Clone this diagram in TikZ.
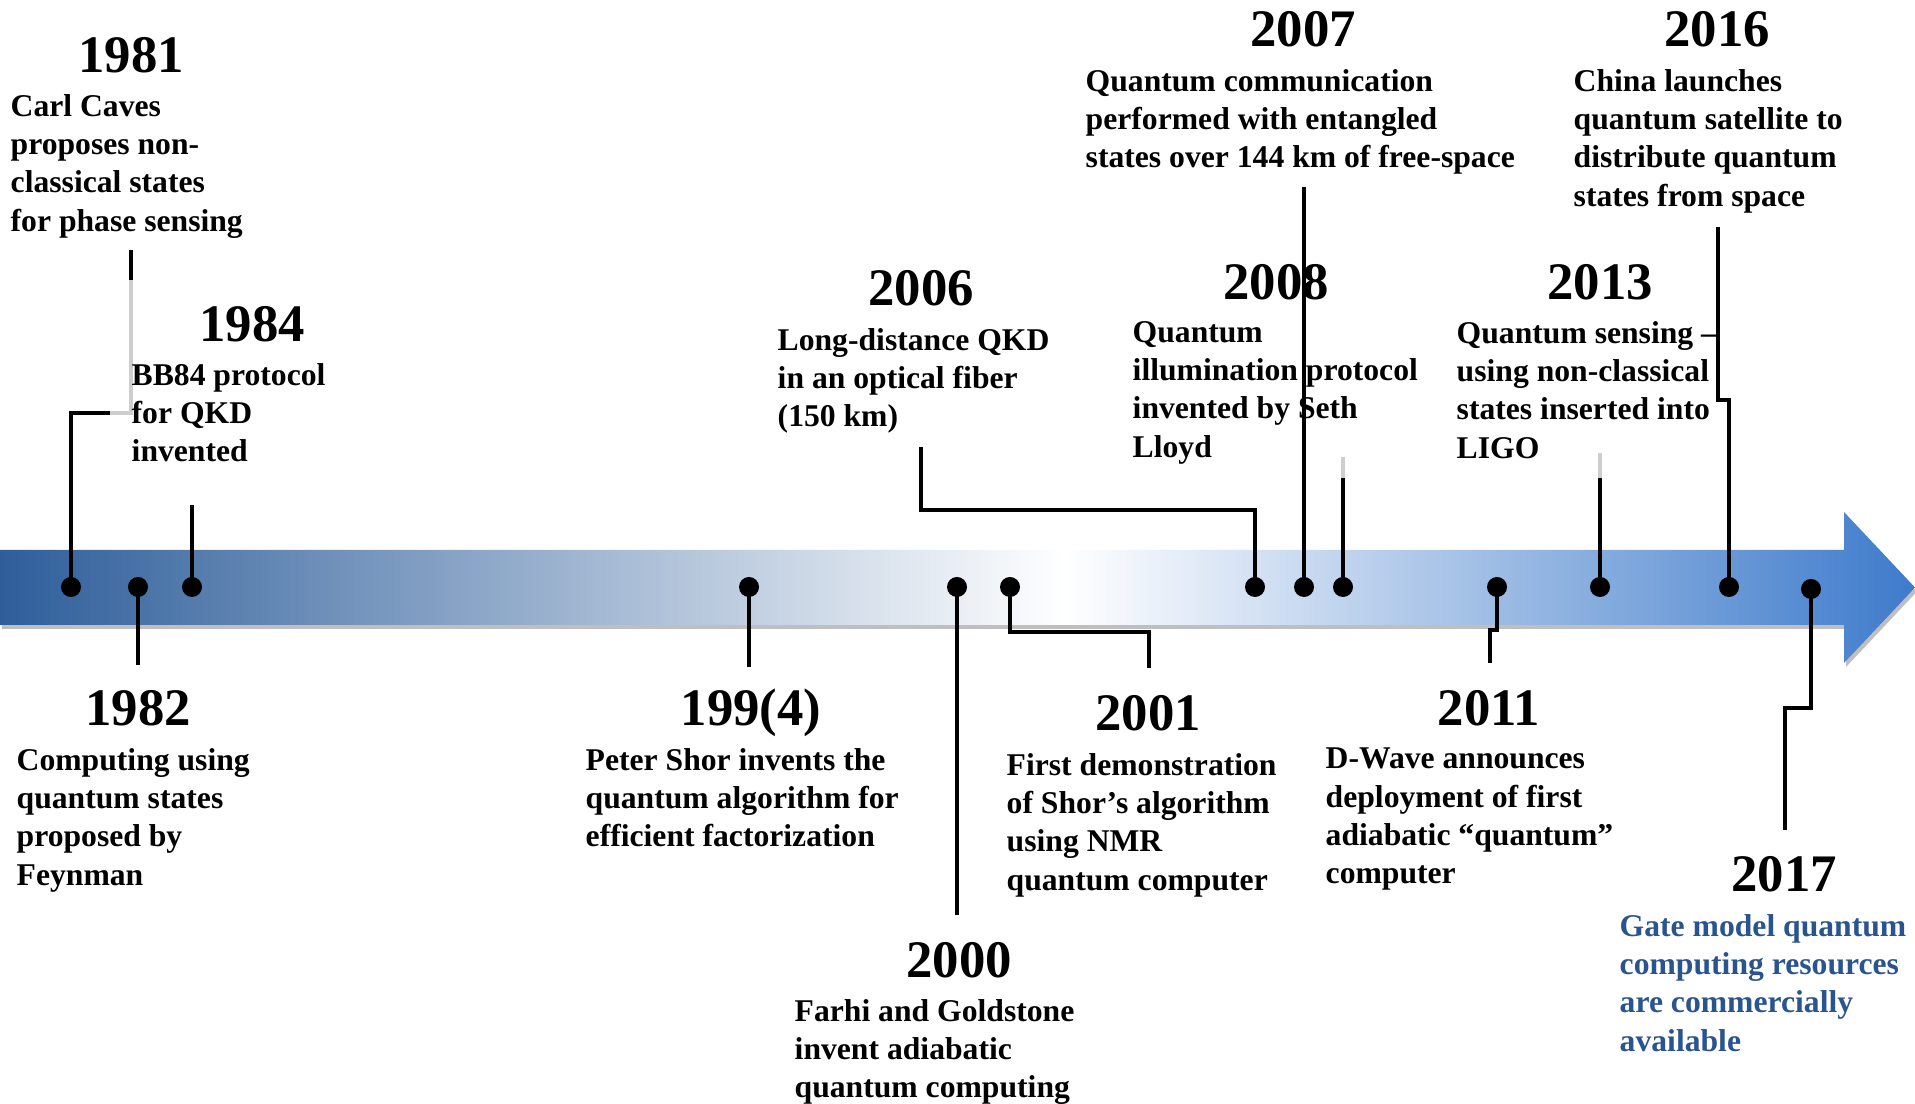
\documentclass[tikz,border=0pt]{standalone}
\usepackage{fontspec}
\setmainfont{Liberation Serif}
\usetikzlibrary{positioning}
\definecolor{bandleft}{RGB}{46,94,154}
\definecolor{bandright}{RGB}{62,123,203}
\definecolor{gateblue}{RGB}{42,84,144}
\definecolor{faintgray}{RGB}{206,206,206}
\pgfdeclarehorizontalshading{bandshade}{100bp}{color(0bp)=(bandleft); color(25bp)=(bandleft); color(52.8bp)=(white); color(75bp)=(bandright); color(100bp)=(bandright)}
\tikzset{yearlabel/.style={font = \fontsize{15}{18}\selectfont\bfseries, inner sep = 0pt, anchor = base}}
\tikzset{eventtext/.style={font = \fontsize{9}{10.9}\selectfont\bfseries, align = left, inner sep = 0pt, anchor = north west, yshift = 0.025cm}}
\tikzset{eventdot/.style={shape = circle, fill = black, inner sep = 0pt, minimum size = 0.2cm}}
\tikzset{stem/.style={draw = black, line width = 1.3pt}}
\tikzset{faintstem/.style={draw = faintgray, line width = 1.3pt}}

\begin{document}
\begin{tikzpicture}[x = 0.01cm, y = -0.01cm]
  \useasboundingbox (0,0) rectangle (1915,1104);

  \fill[black!25, shift = {(2,4)}] (0,550) -- (1844,550) -- (1844,512) -- (1915,587.5) -- (1844,663) -- (1844,625) -- (0,625) -- cycle;
  \shade[shading = bandshade] (0,550) -- (1844,550) -- (1844,512) -- (1915,587.5) -- (1844,663) -- (1844,625) -- (0,625) -- cycle;

  \node (p81) [eventdot] at (71,587) {};
  \node (p82) [eventdot] at (138,587) {};
  \node (p84) [eventdot] at (192,587) {};
  \node (p94) [eventdot] at (749,587) {};
  \node (p00) [eventdot] at (957,587) {};
  \node (p01) [eventdot] at (1010,587) {};
  \node (p06) [eventdot] at (1255,587) {};
  \node (p07) [eventdot] at (1304,587) {};
  \node (p08) [eventdot] at (1343,587) {};
  \node (p11) [eventdot] at (1497,587) {};
  \node (p13) [eventdot] at (1600,587) {};
  \node (p16) [eventdot] at (1729,587) {};
  \node (p17) [eventdot] at (1811,589) {};

  \coordinate (k81a) at (110,413);
  \coordinate (k81b) at (131,280);
  \coordinate (e81) at (131,250);
  \coordinate (e82) at (138,665);
  \coordinate (e84) at (192,505);
  \coordinate (e94) at (749,667);
  \coordinate (e00) at (957,915);
  \coordinate (e01) at (1149,668);
  \coordinate (e06) at (921,447);
  \coordinate (e07) at (1304,187);
  \coordinate (k08) at (1343,478);
  \coordinate (e08) at (1343,457);
  \coordinate (e11) at (1490,663);
  \coordinate (k13) at (1600,478);
  \coordinate (e13) at (1600,453);
  \coordinate (e16) at (1718,227);
  \coordinate (e17) at (1785,830);

  \draw[stem] (p81.center) |- (k81a);
  \draw[faintstem] (k81a) -| (k81b);
  \draw[stem] (k81b) -- (e81);
  \draw[stem] (p82.center) -- (e82);
  \draw[stem] (p84.center) -- (e84);
  \draw[stem] (p94.center) -- (e94);
  \draw[stem] (p00.center) -- (e00);
  \draw[stem] (p01.center) -- ++(0,45) -| (e01);
  \draw[stem] (p06.center) -- ++(0,-77) -| (e06);
  \draw[stem] (p07.center) -- (e07);
  \draw[stem] (p08.center) -- (k08);
  \draw[faintstem] (k08) -- (e08);
  \draw[stem] (p11.center) -- ++(0,43) -| (e11);
  \draw[stem] (p13.center) -- (k13);
  \draw[faintstem] (k13) -- (e13);
  \draw[stem] (p16.center) -- ++(0,-187) -| (e16);
  \draw[stem] (p17.center) -- ++(0,119) -| (e17);

  \node (y81) [yearlabel] at (131,73) {1981};
  \node (t81) [eventtext] at (10,96) {Carl Caves\\proposes non-\\classical states\\for phase sensing};
  \node (y84) [yearlabel] at (252,342) {1984};
  \node (t84) [eventtext] at (131,365) {BB84 protocol\\for QKD\\invented};
  \node (y82) [yearlabel] at (138,726) {1982};
  \node (t82) [eventtext] at (16,750) {Computing using\\quantum states\\proposed by\\Feynman};
  \node (y94) [yearlabel] at (751,726) {199(4)};
  \node (t94) [eventtext] at (585,750) {Peter Shor invents the\\quantum algorithm for\\efficient factorization};
  \node (y00) [yearlabel] at (959,978) {2000};
  \node (t00) [eventtext] at (794,1001) {Farhi and Goldstone\\invent adiabatic\\quantum computing};
  \node (y01) [yearlabel] at (1148,731) {2001};
  \node (t01) [eventtext] at (1006,755) {First demonstration\\of Shor’s algorithm\\using NMR\\quantum computer};
  \node (y06) [yearlabel] at (921,306) {2006};
  \node (t06) [eventtext] at (777,330) {Long-distance QKD\\in an optical fiber\\(150 km)};
  \node (y07) [yearlabel] at (1303,47) {2007};
  \node (t07) [eventtext] at (1085,71) {Quantum communication\\performed with entangled\\states over 144 km of free-space};
  \node (y08) [yearlabel] at (1276,300) {2008};
  \node (t08) [eventtext] at (1132,323) {Quantum\\illumination protocol\\invented by Seth\\Lloyd};
  \node (y16) [yearlabel] at (1717,47) {2016};
  \node (t16) [eventtext] at (1573,71) {China launches\\quantum satellite to\\distribute quantum\\states from space};
  \node (y13) [yearlabel] at (1600,300) {2013};
  \node (t13) [eventtext] at (1456,323) {Quantum sensing –\\using non-classical\\states inserted into\\LIGO};
  \node (y11) [yearlabel] at (1489,726) {2011};
  \node (t11) [eventtext] at (1325,750) {D-Wave announces\\deployment of first\\adiabatic “quantum”\\computer};
  \node (y17) [yearlabel] at (1784,892) {2017};
  \node (t17) [eventtext, text = gateblue] at (1619,916) {Gate model quantum\\computing resources\\are commercially\\available};
\end{tikzpicture}
\end{document}
